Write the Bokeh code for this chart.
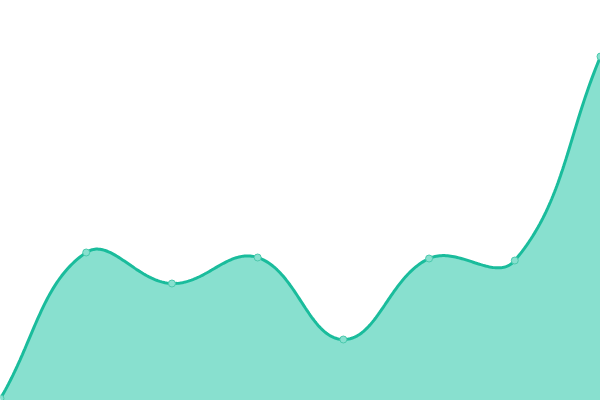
import numpy as np
from bokeh.plotting import figure
from bokeh.models import Range1d
from bokeh.embed import file_html
from bokeh.resources import INLINE

# Data
labels = ["1", "2", "3", "4", "5", "6", "7", "8"]
values = [2, 148, 117, 143, 61, 142, 140, 344]

LINE = "#1abc9c"
FILL = "#88e0cf"
TENSION = 0.4

W, H = 600, 400
x_idx = np.arange(len(values), dtype=float)
y_val = np.array(values, dtype=float)
X0, X1 = 0.0, float(len(values) - 1)
Y0, Y1 = 0.0, 400.0

# work in screen-like units for the spline (Chart.js style cubic spline)
sx = W / (X1 - X0)
sy = H / (Y1 - Y0)
px = (x_idx - X0) * sx
py = (y_val - Y0) * sy
n = len(px)
cp_prev = np.zeros((n, 2))
cp_next = np.zeros((n, 2))
for i in range(n):
    cur = np.array([px[i], py[i]])
    prv = np.array([px[i - 1], py[i - 1]]) if i > 0 else cur
    nxt = np.array([px[i + 1], py[i + 1]]) if i < n - 1 else cur
    d01 = np.hypot(*(cur - prv))
    d12 = np.hypot(*(nxt - cur))
    tot = d01 + d12
    s01 = d01 / tot if tot else 0
    s12 = d12 / tot if tot else 0
    fa = TENSION * s01
    fb = TENSION * s12
    cp_prev[i] = cur - fa * (nxt - prv)
    cp_next[i] = cur + fb * (nxt - prv)
# cap control points to chart area
cp_prev[:, 0] = np.clip(cp_prev[:, 0], 0, W)
cp_next[:, 0] = np.clip(cp_next[:, 0], 0, W)
cp_prev[:, 1] = np.clip(cp_prev[:, 1], 0, H)
cp_next[:, 1] = np.clip(cp_next[:, 1], 0, H)

t = np.linspace(0, 1, 60)[:, None]
segs = []
for i in range(n - 1):
    p0 = np.array([px[i], py[i]])
    p1 = cp_next[i]
    p2 = cp_prev[i + 1]
    p3 = np.array([px[i + 1], py[i + 1]])
    b = ((1 - t) ** 3) * p0 + 3 * ((1 - t) ** 2) * t * p1 + 3 * (1 - t) * t ** 2 * p2 + t ** 3 * p3
    segs.append(b if i == 0 else b[1:])
curve = np.vstack(segs)
cx = curve[:, 0] / sx + X0
cy = curve[:, 1] / sy + Y0

p = figure(width=W, height=H, output_backend="svg", toolbar_location=None,
           x_range=Range1d(X0, X1), y_range=Range1d(Y0, Y1),
           min_border=0, min_border_left=0, min_border_right=0,
           min_border_top=0, min_border_bottom=0)
p.axis.visible = False
p.grid.visible = False
p.outline_line_color = None
p.background_fill_color = "white"
p.border_fill_color = "white"

p.varea(x=cx, y1=Y0, y2=cy, fill_color=FILL, fill_alpha=1.0)
p.line(cx, cy, line_color=LINE, line_width=3)
p.scatter(x_idx, y_val, size=7, marker="circle", fill_color=FILL,
          line_color="#4cc9ad", line_width=1)

open("out.html", "w").write(file_html(p, INLINE))
